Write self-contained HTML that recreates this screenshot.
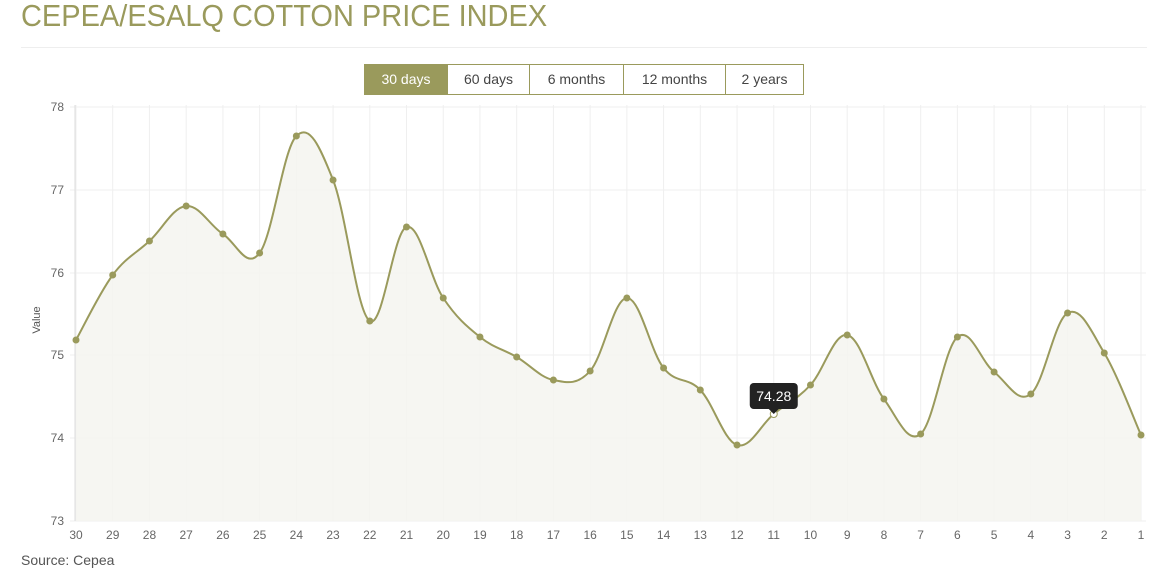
<!DOCTYPE html>
<html><head><meta charset="utf-8">
<style>
body{margin:0;background:#fff;width:1151px;height:571px;overflow:hidden;font-family:"Liberation Sans",sans-serif;}
.t{position:absolute;left:21px;top:-2px;font-size:31px;color:#9a9a5c;transform:scaleX(0.935);transform-origin:0 0;white-space:nowrap;}
.hr{position:absolute;left:21px;top:47px;width:1126px;height:1px;background:#eee;}
.btns{position:absolute;left:364px;top:64px;display:flex;border:1px solid #9a9a5c;height:29px;}
.btns div{text-align:center;line-height:29px;font-size:14px;color:#444;border-left:1px solid #9a9a5c;box-sizing:border-box;}
.btns div:first-child{border-left:none;background:#9a9a5c;color:#fff;}
.src{position:absolute;left:21px;top:552px;font-size:14px;color:#555;}
svg{position:absolute;left:0;top:0;}
</style></head><body>
<div class="t">CEPEA/ESALQ COTTON PRICE INDEX</div>
<div class="hr"></div>
<div class="btns"><div style="width:82px">30 days</div><div style="width:82px">60 days</div><div style="width:94px">6 months</div><div style="width:102px">12 months</div><div style="width:78px">2 years</div></div>
<svg id="s" width="1151" height="571" font-family="Liberation Sans, sans-serif"></svg>
<div class="src">Source: Cepea</div>
<script>
var ys=[340,275,241,206,234,253,136,180,321,227,298,337,357,380,371,298,368,390,445,414,385,335,399,434,337,372,394,313,353,435];
var x0=76,dx=(1141-76)/29;var s='';
for(var i=0;i<30;i++){var x=x0+i*dx;s+='<line x1="'+x+'" y1="105" x2="'+x+'" y2="521" stroke="#efefef"/>';
s+='<text x="'+x+'" y="539" font-size="12" fill="#666" text-anchor="middle">'+(30-i)+'</text>';}
var ty=[107,190,273,355,438,521];
for(var j=0;j<6;j++){s+='<line x1="70" y1="'+ty[j]+'" x2="1146" y2="'+ty[j]+'" stroke="#efefef"/>';
s+='<text x="64" y="'+(ty[j]+4)+'" font-size="12" fill="#666" text-anchor="end">'+(78-j)+'</text>';}
s+='<line x1="75" y1="105" x2="75" y2="521" stroke="#ddd"/>';
s+='<text x="40" y="320" font-size="11" fill="#555" text-anchor="middle" transform="rotate(-90 40 320)">Value</text>';
var P=ys.map(function(y,i){return [x0+i*dx,y]});
var d='M'+P[0][0]+','+P[0][1];var t=0.18;
for(var i=0;i<29;i++){var p0=P[Math.max(i-1,0)],p1=P[i],p2=P[i+1],p3=P[Math.min(i+2,29)];
var c1=[p1[0]+(p2[0]-p0[0])*t,p1[1]+(p2[1]-p0[1])*t],c2=[p2[0]-(p3[0]-p1[0])*t,p2[1]-(p3[1]-p1[1])*t];
d+=' C'+c1[0]+','+c1[1]+' '+c2[0]+','+c2[1]+' '+p2[0]+','+p2[1];}
s+='<path d="'+d+' L1141,521 L76,521 Z" fill="#f5f5f0" fill-opacity="0.85"/>';
s+='<path d="'+d+'" fill="none" stroke="#9a9a5c" stroke-width="2"/>';
P.forEach(function(p,i){s+='<circle cx="'+p[0]+'" cy="'+p[1]+'" r="3.5" fill="'+(i==19?'#fff':'#9a9a5c')+'"'+(i==19?' stroke="#9a9a5c"':'')+'/>';});
var tx=P[19][0];
s+='<rect x="'+(tx-24)+'" y="383" width="48" height="26" rx="4" fill="#222"/><path d="M'+(tx-5)+',409 L'+tx+',414 L'+(tx+5)+',409Z" fill="#222"/>';
s+='<text x="'+tx+'" y="401" font-size="14" fill="#fff" text-anchor="middle">74.28</text>';
document.getElementById('s').innerHTML=s;
</script>
</body></html>
